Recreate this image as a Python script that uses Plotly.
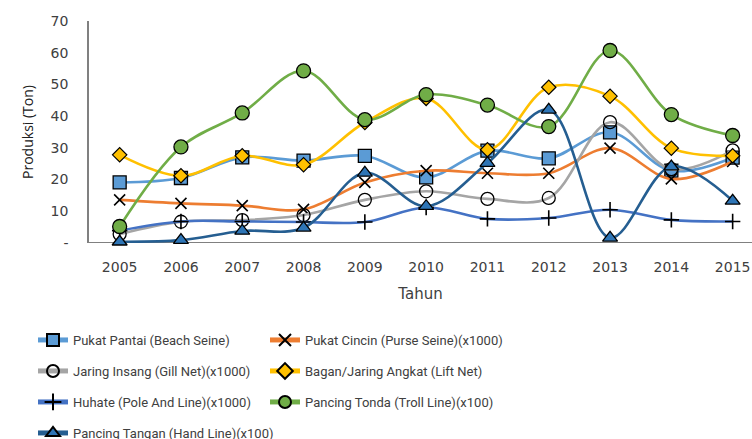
import plotly.graph_objects as go

years = [2005, 2006, 2007, 2008, 2009, 2010, 2011, 2012, 2013, 2014, 2015]

pukat_pantai = [19.1, 20.5, 27.0, 26.0, 27.5, 20.7, 29.1, 26.7, 34.9, 22.8, 26.9]
pukat_cincin = [13.6, 12.5, 11.8, 10.6, 19.1, 22.8, 22.0, 22.0, 29.9, 20.2, 25.7]
jaring_insang = [2.8, 6.7, 7.2, 8.8, 13.6, 16.3, 13.9, 14.2, 38.1, 23.3, 29.2]
bagan = [27.8, 21.2, 27.5, 24.7, 38.0, 45.6, 29.4, 49.1, 46.3, 29.9, 27.5]
huhate = [3.9, 6.8, 6.8, 6.6, 6.6, 11.2, 7.6, 7.9, 10.5, 7.3, 6.8]
pancing_tonda = [5.2, 30.3, 41.0, 54.3, 38.9, 46.8, 43.5, 36.7, 60.7, 40.5, 33.9]
pancing_tangan = [0.4, 0.9, 3.8, 4.8, 22.1, 11.6, 25.2, 42.0, 1.6, 24.1, 13.3]

y_ticks = [0, 10, 20, 30, 40, 50, 60, 70]
y_tick_labels = ["-", "10", "20", "30", "40", "50", "60", "70"]

series = [
    ("Pukat Pantai (Beach Seine)", pukat_pantai, "#5B9BD5",
     dict(symbol="square", size=13, color="#5B9BD5", line=dict(color="black", width=1.3))),
    ("Pukat Cincin (Purse Seine)(x1000)", pukat_cincin, "#ED7D31",
     dict(symbol="x-thin", size=11, color="black", line=dict(color="black", width=1.6))),
    ("Jaring Insang (Gill Net)(x1000)", jaring_insang, "#A5A5A5",
     dict(symbol="circle", size=13, color="rgba(255,255,255,0)", line=dict(color="black", width=1.3))),
    ("Bagan/Jaring Angkat (Lift Net)", bagan, "#FFC000",
     dict(symbol="diamond", size=11, color="#FFC000", line=dict(color="black", width=1.2))),
    ("Huhate (Pole And Line)(x1000)", huhate, "#4472C4",
     dict(symbol="cross-thin", size=11, color="black", line=dict(color="black", width=1.6))),
    ("Pancing Tonda (Troll Line)(x100)", pancing_tonda, "#70AD47",
     dict(symbol="circle", size=14, color="#70AD47", line=dict(color="black", width=1.3))),
    ("Pancing Tangan (Hand Line)(x100)", pancing_tangan, "#255E91",
     dict(symbol="triangle-up", size=13, color="#2E75B6", line=dict(color="black", width=1.3))),
]

W, H = 752, 439
left, top, bottom_px = 89, 21, 243
plot_h = bottom_px - top


def py(px):
    return (bottom_px - px) / plot_h


def px_x(px):
    return (px - left) / (W - left)


# legend slot positions (pixels): two columns, four rows
col_x = [33, 265]
row_y = [340, 371, 402, 433]

fig = go.Figure()
legends = {}
for i, (name, vals, color, marker) in enumerate(series):
    key = "legend" if i == 0 else f"legend{i + 1}"
    fig.add_trace(go.Scatter(
        x=years, y=vals, name=name, mode="lines+markers",
        line=dict(color=color, width=2.6, shape="spline", smoothing=1.0),
        marker=marker, legend=key, cliponaxis=False, showlegend=True,
    ))
    legends[key] = dict(
        orientation="v",
        font=dict(family="Roboto", size=13, color="#404040"),
        bgcolor="rgba(0,0,0,0)", xanchor="left", yanchor="middle",
        itemwidth=30, itemsizing="constant",
        x=px_x(col_x[i % 2]), y=py(row_y[i // 2]),
    )

fig.update_layout(
    width=W, height=H, showlegend=True,
    margin=dict(l=left, r=0, t=top, b=H - bottom_px, autoexpand=False),
    paper_bgcolor="white", plot_bgcolor="white",
    font=dict(family="DejaVu Sans", color="#595959"),
    xaxis=dict(
        range=[2004.5, 2004.5 + (W - left) / 61.3],
        tickvals=years, ticktext=[str(y) for y in years],
        showgrid=False, zeroline=False, showline=False, automargin=False,
        ticks="", tickfont=dict(family="DejaVu Sans", size=14, color="#404040"),
        ticklabelstandoff=14,
        title=dict(text="Tahun", font=dict(family="DejaVu Sans", size=15, color="#404040"), standoff=14),
    ),
    yaxis=dict(
        range=[0, 70], tickvals=y_ticks, ticktext=y_tick_labels,
        showgrid=False, zeroline=False, showline=True, linecolor="#808080", linewidth=1.5,
        automargin=False,
        ticks="", tickfont=dict(family="DejaVu Sans", size=14, color="#404040"), ticklabelstandoff=16,
        title=dict(text="Produksi (Ton)", font=dict(family="Open Sans", size=14, color="#202020"), standoff=14),
    ),
    **legends,
)

# x axis baseline (gray)
fig.add_shape(type="line", xref="paper", yref="y", x0=0, x1=1, y0=0, y1=0,
              line=dict(color="#808080", width=2), layer="below")

fig.write_html(
    "out.html",
    config={"displayModeBar": False},
    post_script="document.body.style.margin='0';document.body.style.overflow='hidden';",
)
